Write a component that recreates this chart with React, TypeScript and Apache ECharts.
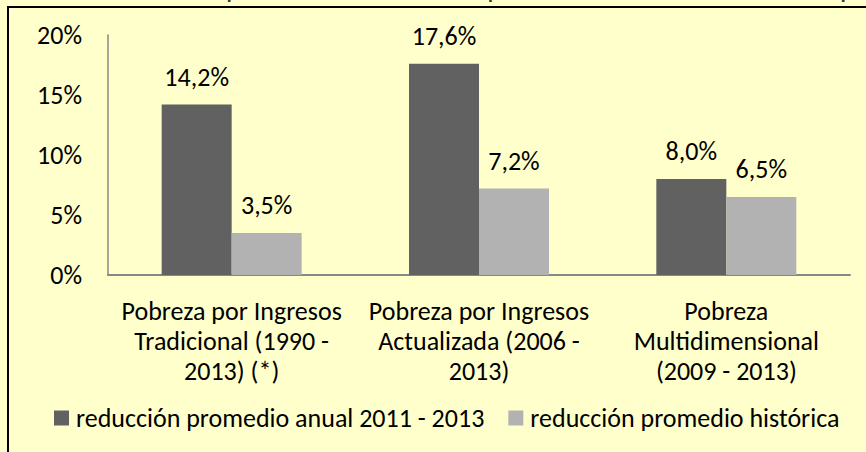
import React, { useEffect, useRef } from "react";
import * as echarts from "echarts";

const categories = [
  "Pobreza por Ingresos\nTradicional (1990 -\n2013) (*)",
  "Pobreza por Ingresos\nActualizada (2006 -\n2013)",
  "Pobreza\nMultidimensional\n(2009 - 2013)",
];
const seriesNames = ["reducción promedio anual 2011 - 2013", "reducción promedio histórica"];
const annualReduction = [14.2, 17.6, 8.0];
const historicalReduction = [3.5, 7.2, 6.5];
const yMin = 0;
const yMax = 20;
const yInterval = 5;
const titleText =
  "Gráfico 1:      Reducción promedio anual de las tasas de pobreza en cada una de las mediciones de pobreza";

const FONT = "Carlito, Lato, 'Noto Sans', sans-serif";
const FS = 26;
const fmt = (v: number) => v.toFixed(1).replace(".", ",") + "%";

export default function App() {
  const ref = useRef<HTMLDivElement>(null);
  useEffect(() => {
    if (!ref.current) return;
    const chart = echarts.init(ref.current, undefined, { renderer: "svg" });
    const dataLabel = {
      show: true,
      position: "top",
      distance: 14,
      fontFamily: FONT,
      fontSize: FS,
      lineHeight: 28,
      color: "#000",
      formatter: (p: any) => fmt(p.value),
    };
    chart.setOption({
      animation: false,
      backgroundColor: "#FFFFCC",
      textStyle: { fontFamily: FONT },
      grid: { left: 108, right: 16, top: 35, bottom: 177, containLabel: false },
      legend: {
        left: 54,
        top: 405,
        padding: 0,
        itemWidth: 15,
        itemHeight: 15,
        itemGap: 24,
        icon: "rect",
        data: seriesNames,
        textStyle: { fontFamily: FONT, fontSize: FS, color: "#000", lineHeight: 24, padding: [0, 0, 0, 2] },
      },
      xAxis: {
        type: "category",
        data: categories,
        axisLine: { show: true, lineStyle: { color: "#878787", width: 2 } },
        axisTick: { show: false },
        axisLabel: {
          interval: 0,
          fontFamily: FONT,
          fontSize: FS,
          lineHeight: 30,
          margin: 21,
          color: "#000",
        },
        splitLine: { show: false },
      },
      yAxis: {
        type: "value",
        min: yMin,
        max: yMax,
        interval: yInterval,
        axisLine: { show: true, lineStyle: { color: "#878787", width: 1.5 } },
        axisTick: { show: false },
        splitLine: { show: false },
        axisLabel: {
          formatter: "{value}%",
          fontFamily: FONT,
          fontSize: FS,
          margin: 26,
          color: "#000",
        },
      },
      series: [
        {
          name: seriesNames[0],
          type: "bar",
          data: annualReduction,
          barWidth: 70,
          barGap: "0%",
          itemStyle: { color: "#616161" },
          label: dataLabel,
        },
        {
          name: seriesNames[1],
          type: "bar",
          data: historicalReduction,
          barWidth: 70,
          barGap: "0%",
          itemStyle: { color: "#B2B2B2" },
          label: dataLabel,
        },
      ],
      graphic: [
        {
          type: "rect",
          shape: { x: 8, y: 7, width: 1200, height: 1200 },
          style: { fill: "none", stroke: "#000", lineWidth: 2 },
          silent: true,
        },
        {
          type: "text",
          x: 30,
          y: 2,
          style: {
            text: titleText,
            font: "bold 20px " + FONT,
            fill: "#333",
            textVerticalAlign: "bottom",
          },
          silent: true,
        },
      ],
    });
    return () => chart.dispose();
  }, []);
  return (
    <div
      ref={ref}
      style={{ position: "fixed", left: 0, top: 0, width: 866, height: 452 }}
    />
  );
}
